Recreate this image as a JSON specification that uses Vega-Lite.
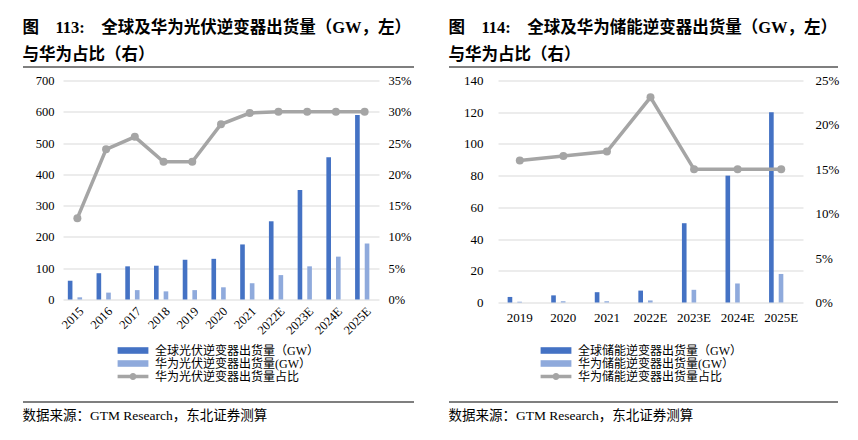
{
  "$schema": "https://vega.github.io/schema/vega-lite/v6.json",
  "background": "white",
  "padding": {"left": 22, "top": 19, "right": 10, "bottom": 5},
  "config": {"view": {"stroke": null}},
  "datasets": {
    "pvBars": [
      {"year": "2015", "series": "全球光伏逆变器出货量（GW）", "value": 60},
      {"year": "2016", "series": "全球光伏逆变器出货量（GW）", "value": 84},
      {"year": "2017", "series": "全球光伏逆变器出货量（GW）", "value": 106},
      {"year": "2018", "series": "全球光伏逆变器出货量（GW）", "value": 108},
      {"year": "2019", "series": "全球光伏逆变器出货量（GW）", "value": 127},
      {"year": "2020", "series": "全球光伏逆变器出货量（GW）", "value": 130},
      {"year": "2021", "series": "全球光伏逆变器出货量（GW）", "value": 176},
      {"year": "2022E", "series": "全球光伏逆变器出货量（GW）", "value": 250},
      {"year": "2023E", "series": "全球光伏逆变器出货量（GW）", "value": 350},
      {"year": "2024E", "series": "全球光伏逆变器出货量（GW）", "value": 455},
      {"year": "2025E", "series": "全球光伏逆变器出货量（GW）", "value": 590},
      {"year": "2015", "series": "华为光伏逆变器出货量(GW）", "value": 7},
      {"year": "2016", "series": "华为光伏逆变器出货量(GW）", "value": 22},
      {"year": "2017", "series": "华为光伏逆变器出货量(GW）", "value": 30},
      {"year": "2018", "series": "华为光伏逆变器出货量(GW）", "value": 26},
      {"year": "2019", "series": "华为光伏逆变器出货量(GW）", "value": 30},
      {"year": "2020", "series": "华为光伏逆变器出货量(GW）", "value": 39},
      {"year": "2021", "series": "华为光伏逆变器出货量(GW）", "value": 52},
      {"year": "2022E", "series": "华为光伏逆变器出货量(GW）", "value": 78},
      {"year": "2023E", "series": "华为光伏逆变器出货量(GW）", "value": 106},
      {"year": "2024E", "series": "华为光伏逆变器出货量(GW）", "value": 137},
      {"year": "2025E", "series": "华为光伏逆变器出货量(GW）", "value": 179}
    ],
    "pvShare": [
      {"year": "2015", "share": 0.13},
      {"year": "2016", "share": 0.24},
      {"year": "2017", "share": 0.26},
      {"year": "2018", "share": 0.22},
      {"year": "2019", "share": 0.22},
      {"year": "2020", "share": 0.28},
      {"year": "2021", "share": 0.298},
      {"year": "2022E", "share": 0.3},
      {"year": "2023E", "share": 0.3},
      {"year": "2024E", "share": 0.3},
      {"year": "2025E", "share": 0.3}
    ],
    "esBars": [
      {"year": "2019", "series": "全球储能逆变器出货量（GW）", "value": 3.5},
      {"year": "2020", "series": "全球储能逆变器出货量（GW）", "value": 4.5},
      {"year": "2021", "series": "全球储能逆变器出货量（GW）", "value": 6.5},
      {"year": "2022E", "series": "全球储能逆变器出货量（GW）", "value": 7.5},
      {"year": "2023E", "series": "全球储能逆变器出货量（GW）", "value": 50},
      {"year": "2024E", "series": "全球储能逆变器出货量（GW）", "value": 80},
      {"year": "2025E", "series": "全球储能逆变器出货量（GW）", "value": 120},
      {"year": "2019", "series": "华为储能逆变器出货量(GW）", "value": 0.5},
      {"year": "2020", "series": "华为储能逆变器出货量(GW）", "value": 0.8},
      {"year": "2021", "series": "华为储能逆变器出货量(GW）", "value": 0.8},
      {"year": "2022E", "series": "华为储能逆变器出货量(GW）", "value": 1.3},
      {"year": "2023E", "series": "华为储能逆变器出货量(GW）", "value": 8},
      {"year": "2024E", "series": "华为储能逆变器出货量(GW）", "value": 12},
      {"year": "2025E", "series": "华为储能逆变器出货量(GW）", "value": 18}
    ],
    "esShare": [
      {"year": "2019", "share": 0.16},
      {"year": "2020", "share": 0.165},
      {"year": "2021", "share": 0.17},
      {"year": "2022E", "share": 0.231},
      {"year": "2023E", "share": 0.15},
      {"year": "2024E", "share": 0.15},
      {"year": "2025E", "share": 0.15}
    ]
  },
  "hconcat": [
    {
      "columns": 1,
      "spacing": 6.5,
      "resolve": {"scale": {"color": "independent"}, "legend": {"color": "independent"}},
      "concat": [
        {
          "width": 351, "height": 1,
          "title": {"text": ["图\u3000113:\u3000全球及华为光伏逆变器出货量（GW，左）", "与华为占比（右）"], "anchor": "start", "frame": "bounds", "orient": "top", "font": "Liberation Serif, Noto Sans CJK SC", "fontSize": 16.5, "fontWeight": "bold", "lineHeight": 27, "offset": 3, "color": "#000"},
          "data": {"values": [{}]},
          "mark": {"type": "rule", "color": "#000", "strokeWidth": 1.2},
          "encoding": {
            "x": {"datum": -40, "type": "quantitative", "scale": {"domain": [0, 351], "nice": false, "zero": false}, "axis": null},
            "x2": {"datum": 351},
            "y": {"datum": 0, "type": "quantitative", "scale": {"domain": [0, 1]}, "axis": null}
          }
        },
        {
          "width": 316, "height": 219,
          "layer": [
            {
              "data": {"name": "pvBars"},
              "mark": {"type": "bar"},
              "encoding": {
                "x": {"field": "year", "type": "nominal", "sort": null, "scale": {"type": "band", "paddingInner": 0, "paddingOuter": 0},
                  "axis": {"title": null, "labelAngle": -45, "domain": false, "ticks": false, "labelPadding": 5, "labelFont": "Liberation Serif", "labelFontSize": 12.5, "labelColor": "#000"}},
                "xOffset": {"field": "series", "type": "nominal", "sort": ["全球光伏逆变器出货量（GW）", "华为光伏逆变器出货量(GW）"], "scale": {"paddingInner": 0.04, "paddingOuter": 1.0}},
                "y": {"field": "value", "type": "quantitative", "scale": {"domain": [0, 700]},
                  "axis": {"title": null, "values": [0, 100, 200, 300, 400, 500, 600, 700], "grid": true, "gridColor": "#d9d9d9", "domain": false, "ticks": false, "labelPadding": 9, "labelFont": "Liberation Serif", "labelFontSize": 12.5, "labelColor": "#000", "minExtent": 40, "maxExtent": 40}},
                "color": {"field": "series", "type": "nominal",
                  "scale": {"domain": ["全球光伏逆变器出货量（GW）", "华为光伏逆变器出货量(GW）", "华为光伏逆变器出货量占比"], "range": ["#4472C4", "#8FAADC", "#A5A5A5"]},
                  "legend": {"title": null, "orient": "none", "legendX": 51, "legendY": 251, "direction": "vertical", "padding": 12, "symbolSize": 196, "labelOffset": 15, "rowPadding": 0, "labelLimit": 400, "labelFont": "Liberation Serif, Noto Sans CJK SC", "labelFontSize": 12, "labelColor": "#000",
                    "encode": {"symbols": {"update": {
                      "shape": {"signal": "datum.value === '华为光伏逆变器出货量占比' ? 'M-2.2,-0.25H2.2V0.25H-2.2Z M0.5,0A0.5,0.5,0,1,1,-0.5,0A0.5,0.5,0,1,1,0.5,0Z' : 'M-2.2,-0.47H2.2V0.47H-2.2Z'"},
                      "fill": {"signal": "datum.value === '全球光伏逆变器出货量（GW）' ? '#4472C4' : (datum.value === '华为光伏逆变器出货量(GW）' ? '#8FAADC' : '#A5A5A5')"},
                      "stroke": {"value": "transparent"},
                      "strokeWidth": {"value": 0},
                      "opacity": {"value": 1}
                    }}}}}
              }
            },
            {
              "data": {"name": "pvShare"},
              "mark": {"type": "line", "strokeWidth": 3.5, "point": {"filled": true, "size": 64}},
              "encoding": {
                "x": {"field": "year", "type": "nominal", "sort": null, "scale": {"type": "band"}},
                "y": {"field": "share", "type": "quantitative", "scale": {"domain": [0, 0.35]},
                  "axis": {"title": null, "orient": "right", "values": [0, 0.05, 0.1, 0.15, 0.2, 0.25, 0.3, 0.35], "format": ".0%", "grid": false, "domain": false, "ticks": false, "labelPadding": 9, "labelFont": "Liberation Serif", "labelFontSize": 12.5, "labelColor": "#000"}},
                "color": {"datum": "华为光伏逆变器出货量占比"}
              }
            }
          ],
          "resolve": {"scale": {"y": "independent"}}
        },
        {
          "width": 351, "height": 1,
          "title": {"text": "数据来源：GTM Research，东北证券测算", "anchor": "start", "frame": "bounds", "orient": "bottom", "font": "Liberation Serif, Noto Sans CJK SC", "fontSize": 13.5, "fontWeight": "normal", "offset": 6, "color": "#000"},
          "data": {"values": [{}]},
          "mark": {"type": "rule", "color": "#000", "strokeWidth": 1.2},
          "encoding": {
            "x": {"datum": -40, "type": "quantitative", "scale": {"domain": [0, 351], "nice": false, "zero": false}, "axis": null},
            "x2": {"datum": 351},
            "y": {"datum": 1, "type": "quantitative", "scale": {"domain": [0, 1]}, "axis": null}
          }
        }
      ]
    },
    {
      "columns": 1,
      "spacing": 6.5,
      "resolve": {"scale": {"color": "independent"}, "legend": {"color": "independent"}},
      "concat": [
        {
          "width": 340, "height": 1,
          "title": {"text": ["图\u3000114:\u3000全球及华为储能逆变器出货量（GW，左）", "与华为占比（右）"], "anchor": "start", "frame": "bounds", "orient": "top", "font": "Liberation Serif, Noto Sans CJK SC", "fontSize": 16.5, "fontWeight": "bold", "lineHeight": 27, "offset": 3, "color": "#000"},
          "data": {"values": [{}]},
          "mark": {"type": "rule", "color": "#000", "strokeWidth": 1.2},
          "encoding": {
            "x": {"datum": -49, "type": "quantitative", "scale": {"domain": [0, 340], "nice": false, "zero": false}, "axis": null},
            "x2": {"datum": 340},
            "y": {"datum": 0, "type": "quantitative", "scale": {"domain": [0, 1]}, "axis": null}
          }
        },
        {
          "width": 305, "height": 222,
          "layer": [
            {
              "data": {"name": "esBars"},
              "mark": {"type": "bar"},
              "encoding": {
                "x": {"field": "year", "type": "nominal", "sort": null, "scale": {"type": "band", "paddingInner": 0, "paddingOuter": 0},
                  "axis": {"title": null, "labelAngle": 0, "domain": false, "ticks": false, "labelPadding": 9, "labelFont": "Liberation Serif", "labelFontSize": 13, "labelColor": "#000"}},
                "xOffset": {"field": "series", "type": "nominal", "sort": ["全球储能逆变器出货量（GW）", "华为储能逆变器出货量(GW）"], "scale": {"paddingInner": 0.04, "paddingOuter": 1.05}},
                "y": {"field": "value", "type": "quantitative", "scale": {"domain": [0, 140]},
                  "axis": {"title": null, "values": [0, 20, 40, 60, 80, 100, 120, 140], "grid": true, "gridColor": "#d9d9d9", "domain": false, "ticks": false, "labelPadding": 15, "labelFont": "Liberation Serif", "labelFontSize": 13, "labelColor": "#000", "minExtent": 49, "maxExtent": 49}},
                "color": {"field": "series", "type": "nominal",
                  "scale": {"domain": ["全球储能逆变器出货量（GW）", "华为储能逆变器出货量(GW）", "华为储能逆变器出货量占比"], "range": ["#4472C4", "#8FAADC", "#A5A5A5"]},
                  "legend": {"title": null, "orient": "none", "legendX": 39, "legendY": 251, "direction": "vertical", "padding": 12, "symbolSize": 196, "labelOffset": 15, "rowPadding": 0, "labelLimit": 400, "labelFont": "Liberation Serif, Noto Sans CJK SC", "labelFontSize": 12, "labelColor": "#000",
                    "encode": {"symbols": {"update": {
                      "shape": {"signal": "datum.value === '华为储能逆变器出货量占比' ? 'M-2.2,-0.25H2.2V0.25H-2.2Z M0.5,0A0.5,0.5,0,1,1,-0.5,0A0.5,0.5,0,1,1,0.5,0Z' : 'M-2.2,-0.47H2.2V0.47H-2.2Z'"},
                      "fill": {"signal": "datum.value === '全球储能逆变器出货量（GW）' ? '#4472C4' : (datum.value === '华为储能逆变器出货量(GW）' ? '#8FAADC' : '#A5A5A5')"},
                      "stroke": {"value": "transparent"},
                      "strokeWidth": {"value": 0},
                      "opacity": {"value": 1}
                    }}}}}
              }
            },
            {
              "data": {"name": "esShare"},
              "mark": {"type": "line", "strokeWidth": 3.5, "point": {"filled": true, "size": 64}},
              "encoding": {
                "x": {"field": "year", "type": "nominal", "sort": null, "scale": {"type": "band"}},
                "y": {"field": "share", "type": "quantitative", "scale": {"domain": [0, 0.25]},
                  "axis": {"title": null, "orient": "right", "values": [0, 0.05, 0.1, 0.15, 0.2, 0.25], "format": ".0%", "grid": false, "domain": false, "ticks": false, "labelPadding": 12, "labelFont": "Liberation Serif", "labelFontSize": 13, "labelColor": "#000"}},
                "color": {"datum": "华为储能逆变器出货量占比"}
              }
            }
          ],
          "resolve": {"scale": {"y": "independent"}}
        },
        {
          "width": 340, "height": 1,
          "title": {"text": "数据来源：GTM Research，东北证券测算", "anchor": "start", "frame": "bounds", "orient": "bottom", "font": "Liberation Serif, Noto Sans CJK SC", "fontSize": 13.5, "fontWeight": "normal", "offset": 6, "color": "#000"},
          "data": {"values": [{}]},
          "mark": {"type": "rule", "color": "#000", "strokeWidth": 1.2},
          "encoding": {
            "x": {"datum": -49, "type": "quantitative", "scale": {"domain": [0, 340], "nice": false, "zero": false}, "axis": null},
            "x2": {"datum": 340},
            "y": {"datum": 1, "type": "quantitative", "scale": {"domain": [0, 1]}, "axis": null}
          }
        }
      ]
    }
  ],
  "spacing": 33,
  "resolve": {"scale": {"color": "independent"}, "legend": {"color": "independent"}}
}
